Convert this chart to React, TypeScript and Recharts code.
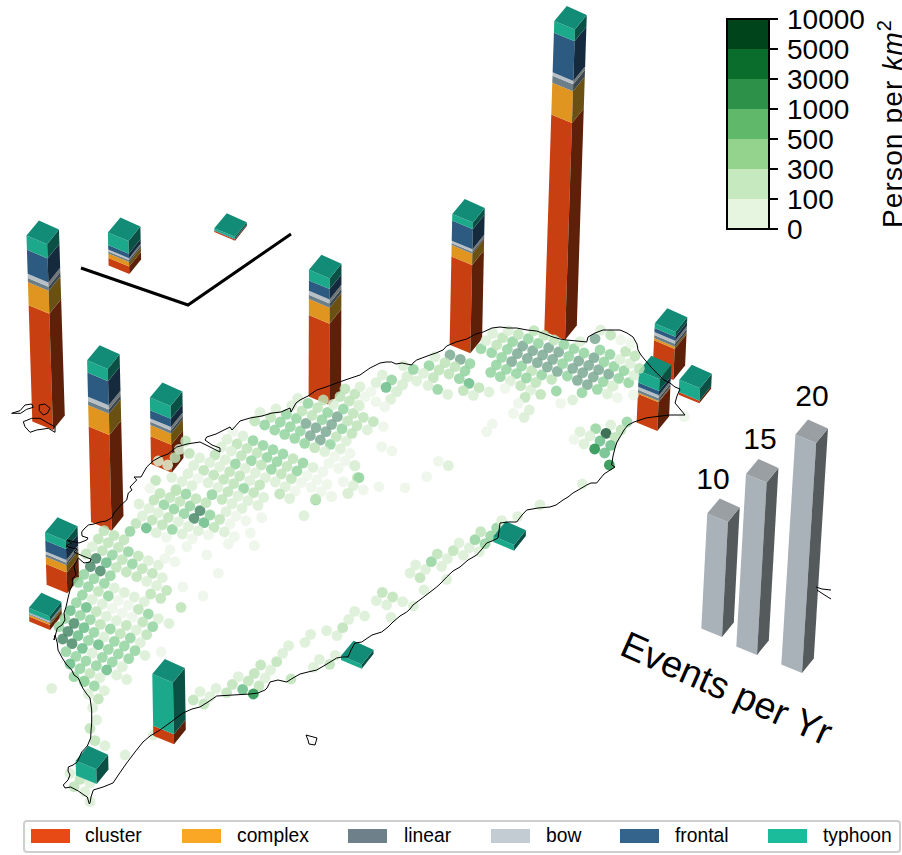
import React from "react";
import { ScatterChart, Scatter, XAxis, YAxis, Legend, BarChart, Bar, Label } from "recharts";

const FONT = "'Liberation Sans', Arial, sans-serif";

// ---------- storm types ----------
const typeNames = ["cluster", "complex", "linear", "bow", "frontal", "typhoon"];
const legendColors = ["#E84A15", "#FBA726", "#6E8089", "#C2CCD2", "#34648C", "#1ABC9C"];
const leftFace = ["#C84012", "#E09520", "#6C7E88", "#B8C0C6", "#2D5A80", "#1CA98B"];
const rightFace = ["#5F2009", "#6B5013", "#3C474D", "#707679", "#152B3D", "#0A5044"];
const topFace = "#128C76";

// ---------- stations (events per year by type) ----------
const stationX = [53, 111.7, 171.7, 129.3, 235, 329.3, 470.3, 565, 673.3, 657.3, 699.3, 67.3, 50, 174, 96.7, 361.7, 514];
const stationY = [430, 530.7, 472.7, 274, 240.7, 405, 353.3, 340, 380, 431, 403.3, 593.3, 630, 744.3, 784, 668.7, 550.7];
const cluster = [10.11, 8.32, 2.43, 0.65, 0.11, 7.07, 7.68, 18.87, 2.7, 2.5, 0.23, 1.8, 0.43, 0.87, 0, 0, 0];
const complex = [2.0, 1.85, 0.96, 0.39, 0, 1.39, 0.98, 2.76, 0.2, 0.11, 0, 0.63, 0.15, 0, 0, 0, 0];
const linear = [0.35, 0.37, 0.29, 0.17, 0, 0.37, 0.17, 0.61, 0.26, 0.23, 0, 0.23, 0.09, 0, 0, 0, 0];
const bow = [0.37, 0.37, 0.29, 0.17, 0, 0.35, 0.22, 0.29, 0.26, 0.26, 0, 0.23, 0.09, 0, 0, 0, 0];
const frontal = [2.09, 2.09, 0.72, 0.39, 0.06, 0.9, 1.74, 3.45, 0.35, 0.37, 0, 0.96, 0.03, 0, 0, 0, 0];
const typhoon = [1.24, 1.07, 1.1, 1.1, 0.17, 0.93, 0.58, 1.01, 0.41, 1.02, 1.07, 0.72, 0.39, 4.5, 1.28, 0.37, 0.5];
const frontOfDots = [13, 14, 15, 16];

// ---------- size key ----------
const keyValues = [10, 15, 20];
const keyX = [722, 757, 802];
const keyY = [637, 655, 673];
const keyLabelX = [713, 760, 812];
const keyLabelY = [489, 449, 406];

// ---------- colorbar ----------
const densityTicks = ["0", "100", "300", "500", "1000", "3000", "5000", "10000"];
const densityColors = ["#E5F5E0", "#C7E9C0", "#93D38E", "#60B96A", "#2E9149", "#0A6D2C", "#00441B"];
const densityClasses = ["c0", "c1", "c2", "c3", "c4", "c5", "c6"];

// ---------- population cells, read region by region ----------
const dotColors = ["#ECF6E9", "#D9EFD4", "#BDE3B8", "#93D39F", "#68BC86", "#7BA893", "#4A8A69", "#1C5837", "#1F8E46"];

const cellsCentral = [
  [420,82,1],[452,97,2],[481,111,3],[511,125,3],[541,138,3],[571,152,5],[601,165,5],[631,178,3],[661,192,1],[690,205,0],
  [468,72,1],[499,88,3],[529,100,3],[558,115,5],[588,128,5],[618,140,5],[649,155,2],[679,168,1],
  [515,62,1],[546,78,2],[576,91,2],[606,104,3],[635,118,5],[666,131,3],[696,145,2],
  [564,55,3],[593,68,2],[623,82,3],[652,95,5],[683,108,2],[711,122,2],[533,40,1],
  [610,45,2],[640,58,1],[670,72,3],[700,85,2],[660,35,2],[688,48,2],[716,60,1],[675,12,2],[705,27,2],
  [404,108,2],[434,120,3],[464,135,3],[494,148,3],[524,160,3],[554,175,3],[584,188,2],[614,200,1],[644,215,0],[675,228,0],
  [339,140,0],[369,153,1],[399,167,3],[429,181,3],[459,194,3],[489,207,3],[519,221,2],[549,234,3],[579,247,1],[609,260,0],
  [321,163,1],[351,177,2],[381,190,2],[411,204,2],[441,217,3],[471,230,3],[501,244,2],[531,258,3],[561,272,0],[591,285,0],[621,298,0],
  [304,186,1],[334,198,1],[364,212,2],[394,227,3],[424,240,2],[454,253,3],[484,267,2],[514,281,2],[544,293,0],[574,307,0],[604,320,0],[634,335,0],
  [285,210,2],[316,224,1],[346,237,3],[376,250,1],[406,264,1],[436,278,1],[466,291,1],[496,305,1],[526,318,0],
  [197,168,2],[178,193,1],[165,218,2],[143,240,1],[115,228,1],[208,205,2],[239,219,1],[269,232,1],[299,245,1],[329,260,2],[359,273,2],[389,287,1],[419,300,2],[479,327,2],[509,341,1],
  [221,241,1],[251,256,2],[281,270,2],[311,283,2],[341,296,2],[371,310,3],[401,323,2],[431,337,1],
  [204,266,1],[234,280,0],[264,293,1],[294,307,1],[324,320,2],[354,333,1],[384,347,1],[414,361,1],
  [186,289,1],[216,302,1],[306,343,2],[336,356,1],[366,370,1],[107,286,2],[155,277,1],[90,310,0],[168,313,2],
  [318,380,1],[348,393,0],[378,407,0],[330,417,0],[313,441,1],[343,455,0],[325,477,0],[403,482,0],[425,398,0],[391,444,0],
  [587,345,3],[552,392,1],[685,325,1],[712,278,2],[704,242,1],[655,250,0],[626,235,0],
];

const cellsNorthCoast = [
  [210,590,1],[258,578,1],[277,555,1],[340,527,1],[354,560,1],[338,583,1],[320,605,1],[302,628,1],[243,605,0],[258,635,0],[225,620,0],[285,650,0],[208,648,1],
];

const cellsNorth = [
  [405,170,1],[450,165,5],[481,178,5],[510,191,3],[543,146,3],[575,158,3],[605,172,3],[635,185,5],[665,198,3],[695,212,2],[725,225,3],[755,238,2],
  [558,122,1],[590,135,2],[622,148,3],[652,161,5],[682,175,5],[712,188,5],[742,201,5],[772,214,5],[802,228,3],[832,241,5],[862,254,5],[892,268,3],
  [578,100,1],[608,113,2],[638,125,3],[668,138,5],[698,152,5],[728,165,5],[758,178,5],[788,191,3],[818,205,5],[848,218,5],[880,231,5],[910,245,3],[940,258,1],
  [625,92,1],[655,103,2],[685,116,3],[715,130,3],[746,143,5],[776,156,5],[806,169,3],[836,183,5],[866,196,5],[896,209,5],[926,222,5],[956,235,3],[986,248,3],
  [702,92,2],[732,106,2],[762,120,2],[792,133,3],[822,146,3],[852,159,3],[882,173,5],[912,186,3],[942,199,3],[972,212,3],[1002,226,1],
  [840,125,1],[885,116,5],[900,150,3],[930,163,3],[960,178,1],[990,190,1],[1005,168,2],[977,154,2],[932,105,2],[902,90,1],[962,120,0],[992,130,0],
  [275,240,3],[258,262,4],[290,275,1],[320,230,1],[307,255,1],[340,208,3],[387,197,3],[370,220,1],[400,233,2],[417,210,2],[435,188,2],[465,200,2],[447,222,2],[478,236,3],[495,213,3],[507,250,4],[537,263,2],
  [413,268,3],[384,256,1],[350,243,1],[443,283,1],[490,272,2],[520,286,1],[567,276,1],
  [572,217,3],[601,230,3],[619,208,3],[649,221,3],[589,195,3],[631,243,1],[662,257,2],[692,270,1],[722,283,2],[708,247,2],[679,234,3],[769,273,3],[846,278,3],
  [675,292,2],[782,310,0],[818,300,1],[952,293,0],[922,282,1],[937,258,1],[1000,285,0],[1018,205,2],
  [655,310,0],[640,340,0],[688,330,1],[672,352,1],[577,372,0],[560,395,0],[615,265,0],
  [981,366,3],[963,390,2],[932,375,1],[887,386,3],[918,400,7],[945,412,2],[932,436,4],[840,395,1],[870,408,1],[900,423,4],[822,418,0],[852,432,1],[884,447,8],[914,459,4],[928,495,8],[847,552,1],[1153,350,0],
  [245,440,0],[276,453,0],[250,380,0],[220,365,2],[190,352,2],[202,390,1],
  [415,484,0],[445,497,1],[380,530,0],[237,560,0],[315,563,0],[177,533,3],[165,497,1],[160,557,1],[143,580,1],[190,570,0],[130,545,0],[47,597,2],[95,590,0],
];

const cellsWest = [
  [267,42,1],[297,55,1],[312,30,2],[342,44,3],[372,57,3],[402,71,3],[432,85,6],[462,98,4],[492,112,2],
  [330,10,2],[360,22,2],[390,34,2],[420,48,3],[450,62,6],[480,75,3],[509,88,2],[378,2,2],[408,12,3],[438,26,2],[468,38,2],[486,14,3],
  [258,100,2],[289,114,4],[319,128,1],[349,142,0],[277,78,1],[307,90,2],[337,104,2],[367,118,3],[397,132,1],[427,146,0],[325,68,1],[355,82,2],[385,95,1],[415,110,1],[445,122,1],[475,135,0],
  [410,170,0],[505,250,0],[470,195,0],[360,180,0],
  [162,122,2],[192,136,2],[222,149,2],[240,124,3],
  [145,147,2],[175,158,2],[205,172,2],[235,185,3],[265,198,2],[295,212,1],[325,225,1],[345,205,0],[375,215,0],
  [127,170,1],[157,182,2],[187,195,3],[217,209,2],[247,222,3],[277,236,2],[307,250,2],[337,263,1],
  [108,192,2],[138,205,6],[169,218,4],[199,232,2],[229,246,2],[260,260,2],[290,274,1],[320,287,1],[350,301,2],
  [121,230,6],[151,243,6],[181,257,3],
  [102,253,3],[132,266,3],[163,280,3],[193,294,1],[223,307,1],[253,321,1],[283,335,1],[302,312,2],[332,325,2],
  [85,277,3],[115,290,3],[145,304,2],[175,318,3],[205,331,0],[235,345,0],[265,358,2],[295,372,3],[325,386,1],[357,400,1],
  [97,315,3],[127,328,1],[157,342,1],[187,355,0],[217,369,0],[247,382,0],[278,396,2],[308,410,3],
  [79,338,3],[109,352,4],[139,365,2],[169,379,1],[199,392,1],[229,406,2],[259,420,1],[290,434,2],
  [61,362,4],[91,376,3],[121,389,3],[151,403,2],[181,417,3],[211,431,2],[241,444,3],[271,458,1],
  [44,385,3],[72,400,6],[102,413,4],[132,427,3],[162,441,1],[193,454,3],[223,468,3],[255,482,3],[285,496,1],
  [27,410,3],[54,424,6],[84,437,4],[115,451,3],[145,464,4],[175,478,3],[205,492,3],[236,506,3],
  [38,447,6],[66,461,6],[97,475,4],[127,489,1],[157,502,3],[187,516,3],[217,530,1],
  [48,485,3],[78,499,3],[108,513,3],[139,527,3],[170,540,4],[200,555,1],[230,568,1],
  [60,522,4],[90,536,3],[120,550,2],[150,563,1],[72,560,3],[102,573,3],
  [398,291,0],[459,318,0],[393,352,2],[333,486,0],
];

const cellsSouth = [
  [155,565,1],[253,545,3],[283,558,3],[313,572,1],[265,582,1],[295,597,2],[278,623,1],[290,660,1],[270,685,2],[285,722,2],[315,737,1],[375,765,1],
  [240,838,2],[222,860,2],[255,875,1],[270,905,1],[210,820,1],[270,848,1],[460,705,1],
  [580,600,2],[612,612,2],[600,575,1],[648,565,1],[630,590,1],[680,578,2],[697,553,2],[728,568,4],[745,543,2],[715,530,1],
];

const cellsSouthEast = [
  [32,555,2],[13,580,2],[62,570,1],[80,545,2],[45,594,1],[27,618,2],[10,642,8],[123,597,2],[98,520,1],[116,497,1],[165,487,1],[182,463,1],[230,452,1],[261,467,1],[278,443,2],[296,418,1],[314,394,1],[344,408,1],[423,412,1],[490,378,1],[458,365,1],[428,351,2],[410,375,1],[379,362,1],[397,337,2],[256,526,1],[239,553,2],[208,538,1],[190,562,1],[522,330,1],[590,298,1],[510,293,2],[480,279,1],[497,255,1],[527,268,1],[544,245,3],[562,222,2],[592,236,1],[575,259,1],[610,212,2],[627,189,1],[640,226,1],[658,203,1],[675,179,3],[692,155,2],[688,215,1],[705,191,3],[722,168,3],[740,144,3],[755,122,1],[803,110,1],[870,75,1],
];

// ---------- coast ----------
const coastMain = [
  [89.3,804],[87.3,797],[84,795],[78.3,791],[70.7,787],[65,788],[63.3,785],[68,780],[70,775],[68,771],[68.3,767],[73,765],[77.3,762],[81.7,752],[87.3,746],[90.7,738],[91,731],[91.7,723],[91.7,710],[90,698],[86,693],[82.7,688],[78.3,678],[74,675],[71.7,670],[66,664],[61.7,657],[58,650],[57.3,643],[55,635],[54,640],[56,633],[57.3,628],[62,625],[65,620],[64,613],[66,607],[68,598],[70,590],[73,583],[72,579],[76,575],[74,566],[78.3,558],[84,563],[90,562],[91,559],[88,558],[83,556],[76,553],[74,552],[77,549],[72,548],[66,546],[71.7,543],[67,540],[79,543],[86.7,540],[88,538],[82,536],[81.7,532],[84,529],[88.3,525],[94,524],[100,522],[106,521],[111.7,518],[114,513],[116.7,510],[121,505],[126.7,500],[128.3,493],[132,490],[130,487],[136.7,480],[134,477],[141,477],[146.7,467],[153,461],[160,457],[168,454],[176.7,447],[187,444],[200,442],[210,447],[220,452],[220,448],[212,445],[205,440],[206.7,437],[216,434],[230,427],[232,430],[240,421],[250,418],[262,416],[272,413],[281,412],[290,408],[291,412],[296,403],[300,400],
  [308,396],[316.7,390],[326,387],[336.7,383],[348,379],[360,375],[370,368],[380,363],[386,362],[391.7,362],[396,364],[402,363],[411.7,365],[413,363],[416.7,360],[430,355],[436,353],[443,350],[446.7,346],[456,342],[466.7,339],[476,334],[483.3,332],[492,328],[500,327],[508,328],[516.7,328],[527,330],[536.7,331],[545,334],[553,337],[560,339],[566.7,340],[577,341],[586.7,342],[588,337],[595,333],[603,330],[612,330],[620,330],[627,333],[633,337],[637,344],[638,350],[641,355],[645,360],[651,367],[656.7,373],[664,380],[670,383],[675,387],[680,389],[677,396],[675,403],[680,409],[685,415],[678,415],[670,415],[661,416],[653,417],[646,418],[640,420],[634,422],[628,425],[624,430],[620,437],[617,442],[615,448],[613,456],[611.7,465],[615,467],[604,474],[596.7,483],[591,483],[586.7,485],[580,489],[573,493],[568,497],[563,500],[556,505],[550,507],[538,508],[526.7,510],[522,515],[516.7,522],[508,522],[500,523],[499,531],[498,538],[492,541],[486.7,543],[482,549],[476.7,555],[468,560],[460,567],[453,571],[446.7,577],[441,583],[436.7,587],[425,596],[413,605],[410,609],[406.7,612],[400,616],[393,622],[388,627],[381.7,632],[372,635],[361.7,642],[355,643],[351,650],[348,657],[342,657],[336.7,658],[327,664],[316.7,670],[308,672],[300,674],[293,678],[286.7,682],[278,680],[270,682],[267,688],[265,690],[258,693],[250,694],[233,695],[216.7,696],[208,702],[200,707],[192,709],[183,713],[171,722],[160,730],[150,736],[143,742],[135,752],[126.7,763],[119,774],[113,783],[103,787],[93.3,790],[91,797],[90,803],[89.3,804],
];
const isletA = [[11.7,413.3],[20,410.7],[25,405],[31.7,404],[33.3,407.3],[26.7,409.3],[20.7,413.3],[15,413.3],[11.7,413.3]];
const isletB = [[39.3,405],[45,404],[50,408.3],[47.3,413.3],[43.3,415],[39.3,410.7],[39.3,405]];
const isletC = [[23.3,421.7],[31.7,418.3],[40,418.3],[48.3,423.3],[55,426.7],[55,432.3],[48.3,428.3],[36.7,430],[30,432.3],[25,426.7],[23.3,421.7]];
const isletD = [[306,735],[317,738],[315,745],[309,744],[308,740],[306,735]];
const isletE = [[816,587],[822,589],[831,590]];
const isletF = [[817,590],[823,594],[831,599]];
const coastLines = [coastMain, isletA, isletB, isletC, isletD, isletE, isletF];
const frameLine = [[81,268],[188,305],[291,234]];

// ---------- build tables ----------
const PX_PER_EVENT = 11.5;
const fromCrop = (ox: number, oy: number, list: number[][]) => list.map(([a, b, c]) => ({ x: ox + a / 3, y: oy + b / 3, c }));
const cells = [
  ...fromCrop(120, 385, cellsCentral),
  ...fromCrop(290, 190, cellsNorthCoast),
  ...fromCrop(300, 300, cellsNorth),
  ...fromCrop(50, 490, cellsWest),
  ...fromCrop(0, 500, cellsSouth),
  ...fromCrop(250, 480, cellsSouthEast),
];
const stations = stationX.map((x, i) => ({
  x, y: stationY[i], values: [cluster[i], complex[i], linear[i], bow[i], frontal[i], typhoon[i]],
}));
const stationsBack = stations.filter((_, i) => !frontOfDots.includes(i));
const stationsFront = stations.filter((_, i) => frontOfDots.includes(i));
const keyBars = keyValues.map((v, i) => ({ x: keyX[i], y: keyY[i], value: v }));
const keyLabels = keyValues.map((v, i) => ({ x: keyLabelX[i], y: keyLabelY[i], text: String(v) }));
const axisTitle = [{ x: 618, y: 654, text: "Events per Yr" }];
const toPts = (l: number[][]) => l.map(([x, y]) => ({ x, y }));

// ---------- projection of a column ----------
const LEFT = [-20.7, -8.6];
const RIGHT = [11.8, -14.6];
const BACK = [-8.2, -23.6];
const lean = (x: number, h: number) => ((x - 306) * h) / 8060;
const P = (cx: number, cy: number, off: number[], h: number) => `${cx + off[0] + lean(cx, h)},${cy + off[1] - h}`;
const ZERO = [0, 0];

function Column({ cx, cy, values, lefts, rights, top }: any) {
  let acc = 0;
  const polys: React.ReactNode[] = [];
  values.forEach((v: number, i: number) => {
    if (!v) return;
    const h0 = acc * PX_PER_EVENT;
    const h1 = (acc + v) * PX_PER_EVENT;
    acc += v;
    polys.push(
      <polygon key={`l${i}`} fill={lefts[i]} points={[P(cx, cy, ZERO, h0), P(cx, cy, LEFT, h0), P(cx, cy, LEFT, h1), P(cx, cy, ZERO, h1)].join(" ")} />,
      <polygon key={`r${i}`} fill={rights[i]} points={[P(cx, cy, ZERO, h0), P(cx, cy, RIGHT, h0), P(cx, cy, RIGHT, h1), P(cx, cy, ZERO, h1)].join(" ")} />
    );
  });
  const H = acc * PX_PER_EVENT;
  return (
    <g>
      {polys}
      <polygon fill={top} points={[P(cx, cy, ZERO, H), P(cx, cy, LEFT, H), P(cx, cy, BACK, H), P(cx, cy, RIGHT, H)].join(" ")} />
    </g>
  );
}

const stationShape = (p: any) => <Column cx={p.cx} cy={p.cy} values={p.payload.values} lefts={leftFace} rights={rightFace} top={topFace} />;
const keyShape = (p: any) => <Column cx={p.cx} cy={p.cy} values={[p.payload.value]} lefts={["#A9B2B8"]} rights={["#555B5C"]} top="#9A9FA4" />;
const cellShape = (p: any) => <circle cx={p.cx} cy={p.cy} r={5.4} fill={dotColors[p.payload.c]} fillOpacity={0.85} />;
const noShape = () => <g />;
const keyLabelShape = (p: any) => (
  <text x={p.cx} y={p.cy} textAnchor="middle" fontFamily={FONT} fontSize={30} fill="#000">{p.payload.text}</text>
);
const titleShape = (p: any) => (
  <text x={p.cx} y={p.cy} transform={`rotate(24 ${p.cx} ${p.cy})`} fontFamily={FONT} fontSize={37.5} fill="#000">{p.payload.text}</text>
);

// ---------- legend ----------
const swatchLeft = [8, 159, 325, 468, 597, 745];
const labelLeft = [62, 214, 381, 523, 652, 800];
const legendContent = () => (
  <div style={{ position: "relative", width: 878, height: 33, boxSizing: "border-box", border: "2px solid #CFCFCF", borderRadius: 4, background: "#fff", fontFamily: FONT, fontSize: 19.3, color: "#000" }}>
    {typeNames.map((n, i) => (
      <React.Fragment key={n}>
        <div style={{ position: "absolute", left: swatchLeft[i] - 2, top: 7, width: 39, height: 14, background: legendColors[i] }} />
        <div style={{ position: "absolute", left: labelLeft[i] - 2, top: 3, lineHeight: "22px" }}>{n}</div>
      </React.Fragment>
    ))}
  </div>
);

const colorRow = [{ cat: "density", c0: 1, c1: 1, c2: 1, c3: 1, c4: 1, c5: 1, c6: 1 }];
const colorbarTitle = () => (
  <text transform="translate(201.5 124) rotate(-90)" textAnchor="middle" fontFamily={FONT} fontSize={28} fill="#000" textLength={208} lengthAdjust="spacing">
    Person per <tspan fontStyle="italic">km</tspan><tspan dy={-11} fontSize={20}>2</tspan>
  </text>
);

export default function App() {
  return (
    <div style={{ position: "absolute", left: 0, top: 0, width: 902, height: 855, overflow: "hidden", background: "#fff" }}>
      <div style={{ position: "absolute", left: 0, top: 0 }}>
        <ScatterChart width={902} height={855} margin={{ top: 0, right: 0, bottom: 0, left: 0 }}>
          <XAxis type="number" dataKey="x" domain={[0, 902]} hide />
          <YAxis type="number" dataKey="y" domain={[0, 855]} reversed hide />
          <Legend layout="horizontal" verticalAlign="middle" align="center" content={legendContent} wrapperStyle={{ left: 23, top: 820, width: 878, height: 33 }} />
          <Scatter name="frame" data={toPts(frameLine)} shape={noShape} line={{ stroke: "#000", strokeWidth: 3, fill: "none" }} isAnimationActive={false} legendType="none" />
          <Scatter name="stations" data={stationsBack} shape={stationShape} isAnimationActive={false} legendType="none" />
          <Scatter name="population" data={cells} shape={cellShape} isAnimationActive={false} legendType="none" />
          <Scatter name="stations south" data={stationsFront} shape={stationShape} isAnimationActive={false} legendType="none" />
          <Scatter name="size key" data={keyBars} shape={keyShape} isAnimationActive={false} legendType="none" />
          <Scatter name="size labels" data={keyLabels} shape={keyLabelShape} isAnimationActive={false} legendType="none" />
          <Scatter name="key title" data={axisTitle} shape={titleShape} isAnimationActive={false} legendType="none" />
          {coastLines.map((l, i) => (
            <Scatter key={i} name={`coast${i}`} data={toPts(l)} shape={noShape} line={{ stroke: "#000", strokeWidth: 1, fill: "none" }} isAnimationActive={false} legendType="none" />
          ))}
        </ScatterChart>
      </div>
      <div style={{ position: "absolute", left: 700, top: 0 }}>
        <BarChart width={202} height={250} data={colorRow} margin={{ top: 19, right: 0, bottom: 21, left: 27 }} barCategoryGap={0} barGap={0}>
          <XAxis dataKey="cat" type="category" hide />
          <YAxis
            orientation="right"
            type="number"
            width={133}
            domain={[0, 7]}
            ticks={[0, 1, 2, 3, 4, 5, 6, 7]}
            interval={0}
            tickFormatter={(v: number) => densityTicks[v]}
            axisLine={false}
            tickSize={9}
            tickMargin={9}
            tickLine={{ stroke: "#000", strokeWidth: 2 }}
            tick={{ fontFamily: FONT, fontSize: 28, fill: "#000", textAnchor: "start" }}
          >
            <Label content={colorbarTitle} />
          </YAxis>
          {densityClasses.map((k, i) => (
            <Bar key={k} dataKey={k} stackId="d" fill={densityColors[i]} isAnimationActive={false} />
          ))}
        </BarChart>
        <div style={{ position: "absolute", left: 26, top: 18, width: 44, height: 212, boxSizing: "border-box", border: "2.5px solid #000", pointerEvents: "none" }} />
      </div>
    </div>
  );
}
